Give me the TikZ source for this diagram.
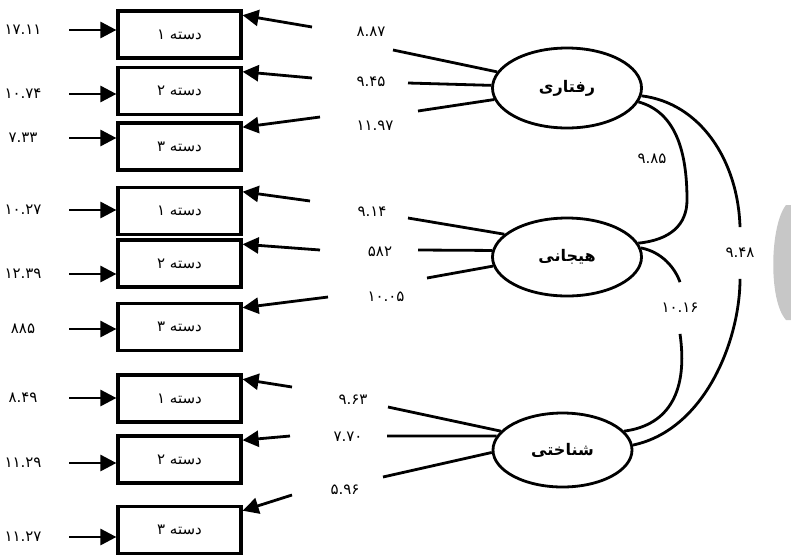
\documentclass[tikz,border=0pt]{standalone}
\usepackage{fontspec}
\newfontfamily\fa[Script=Arabic]{DejaVu Sans}
\TeXXeTstate=1
\usetikzlibrary{arrows.meta,shapes.geometric}

\begin{document}
\begin{tikzpicture}[x=1pt, y=-1pt, line width=2.8pt,
    every node/.style={font=\fa\fontsize{15}{17}\selectfont},
    box/.style={draw, line width=3.2pt, minimum width=123pt, minimum height=47pt, inner sep=0pt},
    lat/.style={draw, ellipse, line width=2.8pt, inner sep=0pt,
                font=\fa\bfseries\fontsize{16}{18}\selectfont},
    val/.style={inner sep=0pt},
    err/.style={inner sep=0pt, minimum width=90pt},
    brk/.style={inner sep=0pt, minimum height=49pt},
    tip/.style={-{Triangle[length=16pt,width=16pt]}}]
  \useasboundingbox (0,0) rectangle (791,555);

  % indicator boxes
  \node[box] (b11) at (179.5,34.5) {\beginR دسته ۱\endR};
  \node[box] (b12) at (179.5,91) {\beginR دسته ۲\endR};
  \node[box] (b13) at (179.5,146.5) {\beginR دسته ۳\endR};
  \node[box] (b21) at (179.5,211) {\beginR دسته ۱\endR};
  \node[box] (b22) at (179.5,263.5) {\beginR دسته ۲\endR};
  \node[box] (b23) at (179.5,327) {\beginR دسته ۳\endR};
  \node[box] (b31) at (179.5,398.5) {\beginR دسته ۱\endR};
  \node[box] (b32) at (179.5,459.5) {\beginR دسته ۲\endR};
  \node[box] (b33) at (179.5,530) {\beginR دسته ۳\endR};

  % error terms
  \node[err] (e11) at (23,30) {۱۷.۱۱};
  \node[err] (e12) at (23,94) {۱۰.۷۴};
  \node[err] (e13) at (23,138) {۷.۳۳};
  \node[err] (e21) at (23,210) {۱۰.۲۷};
  \node[err] (e22) at (23,274) {۱۲.۳۹};
  \node[err] (e23) at (23,329) {۸۸۵};
  \node[err] (e31) at (23,398) {۸.۴۹};
  \node[err] (e32) at (23,463) {۱۱.۲۹};
  \node[err] (e33) at (23,537) {۱۱.۲۷};
  \draw[tip] (e11.east) -- (e11.east -| b11.west);
  \draw[tip] (e12.east) -- (e12.east -| b12.west);
  \draw[tip] (e13.east) -- (e13.east -| b13.west);
  \draw[tip] (e21.east) -- (e21.east -| b21.west);
  \draw[tip] (e22.east) -- (e22.east -| b22.west);
  \draw[tip] (e23.east) -- (e23.east -| b23.west);
  \draw[tip] (e31.east) -- (e31.east -| b31.west);
  \draw[tip] (e32.east) -- (e32.east -| b32.west);
  \draw[tip] (e33.east) -- (e33.east -| b33.west);

  % latent factors
  \node[lat, minimum width=149pt, minimum height=80pt] (raf) at (567,88) {\beginR رفتاری\endR};
  \node[lat, minimum width=149pt, minimum height=78pt] (hej) at (567,257) {\beginR هیجانی\endR};
  \node[lat, minimum width=139pt, minimum height=74pt] (shn) at (562.5,450) {\beginR شناختی\endR};

  % loadings
  \coordinate (g11) at (312,27);  \coordinate (h11) at (393,50);
  \coordinate (g12) at (312,78);  \coordinate (h12) at (408,83);
  \coordinate (g13) at (320,117); \coordinate (h13) at (418,111);
  \coordinate (g21) at (310,201); \coordinate (h21) at (408,218);
  \coordinate (g22) at (320,250); \coordinate (h22) at (418,250);
  \coordinate (g23) at (328,297); \coordinate (h23) at (427,278);
  \coordinate (g31) at (292,387); \coordinate (h31) at (388,407);
  \coordinate (g32) at (290,436); \coordinate (h32) at (387,436);
  \coordinate (g33) at (292,495); \coordinate (h33) at (383,477);
  \draw[tip] (raf.167) -- (h11) (g11) -- (b11.17);
  \draw[tip] (raf.178) -- (h12) (g12) -- (b12.17);
  \draw[tip] (raf.189) -- (h13) (g13) -- (b13.17);
  \draw[tip] (hej.160) -- (h21) (g21) -- (b21.17);
  \draw[tip] (hej.175) -- (h22) (g22) -- (b22.17);
  \draw[tip] (hej.187) -- (h23) (g23) -- (b23.17);
  \draw[tip] (shn.163) -- (h31) (g31) -- (b31.17);
  \draw[tip] (shn.168) -- (h32) (g32) -- (b32.17);
  \draw[tip] (shn.182) -- (h33) (g33) -- (b33.17);
  \node[val] (l11) at (371,32) {۸.۸۷};
  \node[val] (l12) at (371,82) {۹.۴۵};
  \node[val] (l13) at (375,126) {۱۱.۹۷};
  \node[val] (l21) at (372,212) {۹.۱۴};
  \node[val] (l22) at (380,252) {۵۸۲};
  \node[val] (l23) at (386,297) {۱۰.۰۵};
  \node[val] (l31) at (353,400) {۹.۶۳};
  \node[val] (l32) at (348,437) {۷.۷۰};
  \node[val] (l33) at (345,490) {۵.۹۶};

  % correlations
  \node[val] (r1) at (652,159) {۹.۸۵};
  \node[brk] (r2) at (680,308) {۱۰.۱۶};
  \node[brk] (r3) at (740,253) {۹.۴۸};
  \draw (raf.-11) .. controls (675,112) and (687,150) .. (687,200)
        .. controls (687,225) and (670,240) .. (hej.11);
  \draw (hej.7) .. controls (662,252) and (675,268) .. (r2.north)
        (r2.south) .. controls (688,390) and (670,425) .. (shn.17);
  \draw (raf.-6) .. controls (700,103) and (738,160) .. (r3.north)
        (r3.south) .. controls (740,340) and (705,430) .. (shn.4);

  % grey mark at the edge
  \fill[black!22] (786,205) .. controls (770,225) and (768,300) .. (786,320)
    -- (791,320) -- (791,205) -- cycle;
\end{tikzpicture}
\end{document}
